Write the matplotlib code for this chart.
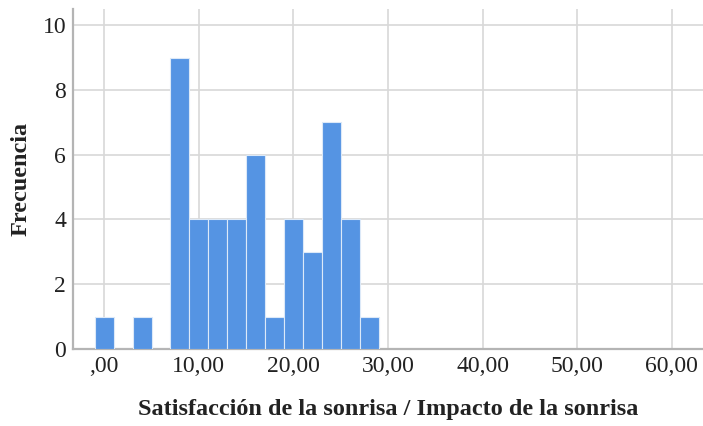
import numpy as np
import matplotlib
matplotlib.use("Agg")
import matplotlib.pyplot as plt

# histogram bins (centres) and counts, bin width 2
bin_centers = [0, 2, 4, 6, 8, 10, 12, 14, 16, 18, 20, 22, 24, 26, 28]
counts = [1, 0, 1, 0, 9, 4, 4, 4, 6, 1, 4, 3, 7, 4, 1]
bin_width = 2
x_ticks = [0, 10, 20, 30, 40, 50, 60]
x_tick_labels = [",00", "10,00", "20,00", "30,00", "40,00", "50,00", "60,00"]
y_ticks = [0, 2, 4, 6, 8, 10]

plt.rcParams["font.family"] = ["Liberation Serif", "DejaVu Serif"]

fig = plt.figure(figsize=(7.03, 4.26), dpi=100)
ax = fig.add_axes([73 / 703, 1 - 349 / 426, (703 - 73) / 703, (349 - 9) / 426])

ax.bar(bin_centers, counts, width=bin_width, color="#5594e3",
       edgecolor="#dce9f8", linewidth=0.8, zorder=3)

ax.set_xlim(-3.3, 63.3)
ax.set_ylim(0, 10.5)
ax.set_xticks(x_ticks)
ax.set_xticklabels(x_tick_labels, fontsize=17, color="#222222")
ax.set_yticks(y_ticks)
ax.set_yticklabels([str(v) for v in y_ticks], fontsize=17, color="#222222")
ax.tick_params(length=0, pad=5)

ax.grid(True, color="#d8d8d8", linewidth=1.2, zorder=0)
ax.set_axisbelow(True)
for side in ("top", "right"):
    ax.spines[side].set_visible(False)
for side in ("left", "bottom"):
    ax.spines[side].set_color("#b4b4b4")
    ax.spines[side].set_linewidth(1.6)

ax.set_xlabel("Satisfacción de la sonrisa / Impacto de la sonrisa",
              fontsize=17.5, fontweight="bold", labelpad=16, color="#222222")
ax.set_ylabel("Frecuencia", fontsize=17.5, fontweight="bold", labelpad=8,
              color="#222222")

fig.savefig("out.png", dpi=100)
